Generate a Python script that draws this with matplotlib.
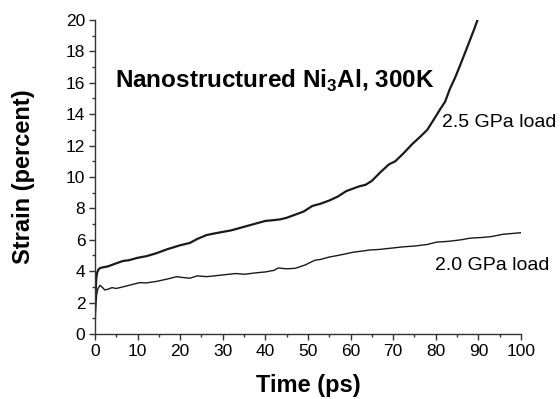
import matplotlib
matplotlib.use('Agg')
import matplotlib.pyplot as plt
from matplotlib.ticker import MultipleLocator

# strain curves
time_25 = [0, 0.15, 0.3, 0.5, 0.8, 1.2, 2, 3, 4, 5.5, 6.6, 8, 10, 12, 14.5, 17, 20, 22.3,
           24, 26.2, 28, 30, 32, 34, 36, 38, 40, 42, 43.5, 45, 47, 49, 51, 53, 55, 57,
           59, 60.5, 62, 63.5, 65, 67, 69, 70.5, 72.4, 74.5, 76.3, 78, 79.4, 81, 82.2,
           83.3, 84.5, 85.7, 87, 88, 89, 89.8]
strain_25 = [1.0, 2.6, 3.5, 3.9, 4.1, 4.2, 4.25, 4.3, 4.4, 4.55, 4.65, 4.7, 4.85, 4.95, 5.15,
             5.4, 5.65, 5.8, 6.05, 6.3, 6.4, 6.5, 6.6, 6.75, 6.9, 7.05, 7.2, 7.25, 7.3, 7.4,
             7.6, 7.8, 8.15, 8.3, 8.5, 8.75, 9.1, 9.25, 9.4, 9.5, 9.75, 10.3, 10.8, 11.0,
             11.5, 12.1, 12.55, 13.0, 13.6, 14.3, 14.8, 15.6, 16.3, 17.1, 18.0, 18.7, 19.4,
             20.0]

time_20 = [0, 0.2, 0.4, 0.7, 1.2, 1.8, 2.3, 3, 4, 5, 6.6, 8, 10.5, 12, 14.5, 17, 19.2, 20.5,
           22.3, 24, 26.2, 28, 30, 33, 35, 38, 40, 42, 43, 45, 47, 49.4, 50.5, 51.7, 53,
           55, 57, 58.8, 60.5, 62.7, 64.6, 66.6, 69, 72.4, 75, 78, 80.2, 83, 86, 88, 91,
           93, 95.8, 98, 100]
strain_20 = [1.0, 1.9, 2.5, 2.9, 3.1, 2.95, 2.8, 2.85, 2.95, 2.9, 3.0, 3.1, 3.27, 3.25, 3.35,
             3.5, 3.65, 3.6, 3.55, 3.7, 3.65, 3.7, 3.76, 3.85, 3.8, 3.9, 3.95, 4.05, 4.2,
             4.15, 4.18, 4.4, 4.55, 4.7, 4.75, 4.9, 5.0, 5.1, 5.2, 5.28, 5.35, 5.38, 5.45,
             5.55, 5.6, 5.7, 5.85, 5.9, 6.0, 6.1, 6.15, 6.2, 6.35, 6.4, 6.45]

plt.rcParams['font.family'] = ['Liberation Sans', 'DejaVu Sans']
plt.rcParams['mathtext.fontset'] = 'custom'
plt.rcParams['mathtext.rm'] = 'Liberation Sans'
plt.rcParams['mathtext.bf'] = 'Liberation Sans:bold'

fig = plt.figure(figsize=(5.6, 3.99), dpi=100)
ax = fig.add_axes([0.1696, 0.163, 0.7607, 0.787])

ax.plot(time_25, strain_25, color='#1a1a1a', lw=1.6)
ax.plot(time_20, strain_20, color='#1a1a1a', lw=1.0)

ax.set_xlim(0, 100)
ax.set_ylim(0, 20)
ax.xaxis.set_major_locator(MultipleLocator(10))
ax.xaxis.set_minor_locator(MultipleLocator(5))
ax.yaxis.set_major_locator(MultipleLocator(2))
ax.yaxis.set_minor_locator(MultipleLocator(1))

for s in ['top', 'right']:
    ax.spines[s].set_visible(False)
for s in ['left', 'bottom']:
    ax.spines[s].set_color('#333333')
    ax.spines[s].set_linewidth(1.0)
ax.tick_params(which='major', direction='out', length=4, width=1, colors='#333333',
               labelsize=12.5, labelcolor='black', pad=3)
ax.tick_params(which='minor', direction='out', length=2.5, width=1, colors='#333333')

ax.set_xlabel('Time (ps)', fontsize=17, fontweight='bold', labelpad=11)
ax.set_ylabel('Strain (percent)', fontsize=17, fontweight='bold', labelpad=22)

ax.text(4.7, 15.7, r'Nanostructured Ni$_{\mathbf{3}}$Al, 300K', fontsize=17.5,
        fontweight='bold', va='baseline', ha='left')
ax.text(81.5, 13.15, '2.5 GPa load', fontsize=14, va='baseline', ha='left')
ax.text(79.8, 4.1, '2.0 GPa load', fontsize=14, va='baseline', ha='left')

fig.savefig('out.png', dpi=100)
